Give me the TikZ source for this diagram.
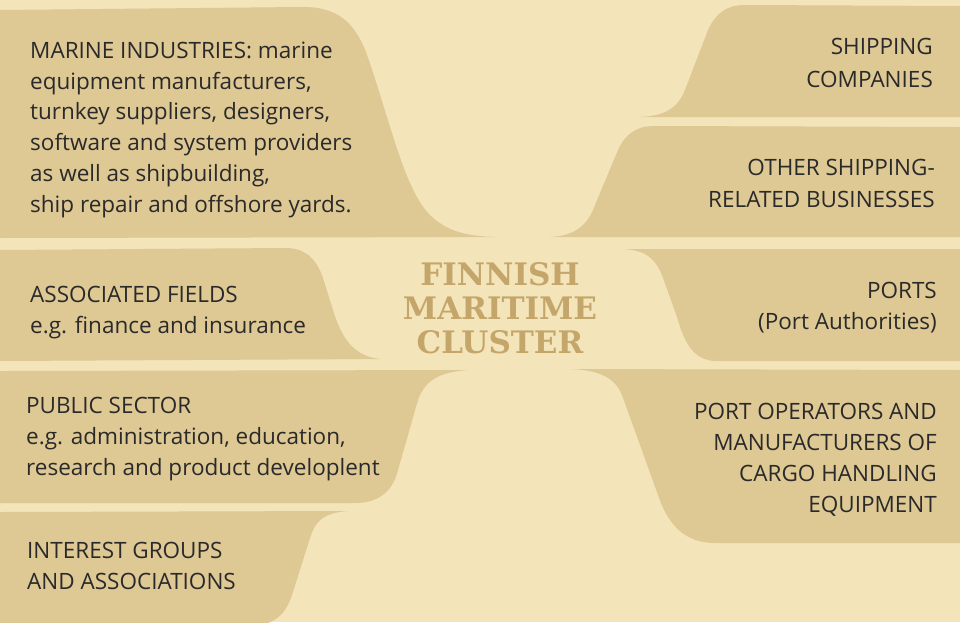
\documentclass[tikz,border=0pt]{standalone}
\usepackage{fontspec}
\setmainfont{Open Sans}
\newfontfamily\titlefont{DejaVu Serif}
\definecolor{bgc}{HTML}{F3E4B9}
\definecolor{leaf}{HTML}{DEC894}
\definecolor{ttl}{HTML}{C4A66A}
\definecolor{ink}{HTML}{2A2A2A}
\begin{document}
\begin{tikzpicture}[x=1pt,y=-1pt,
  leafshape/.style={fill=leaf,draw=none},
  lbl/.style={inner sep=0pt,text=ink,font=\fontsize{22.5}{30.7}\selectfont},
  lbll/.style={lbl,anchor=base west,align=left},
  lblr/.style={lbl,anchor=base east,align=right},
  ttlstyle/.style={inner sep=0pt,text=ttl,anchor=base,align=center,
    font=\titlefont\bfseries\fontsize{31}{34}\selectfont}]
\useasboundingbox (0,0) rectangle (960,622);
\fill[bgc] (0,0) rectangle (960,622);
\begin{scope}
\clip (0,0) rectangle (960,622);
% left shapes
\fill[leafshape] (0,10) -- (300,7) .. controls (340,6) and (355,25) .. (366,52)
  .. controls (390,120) and (403,185) .. (428,213)
  .. controls (445,231) and (465,236) .. (495,237) -- (0,238) -- cycle;
\fill[leafshape] (0,250) -- (285,248) .. controls (305,248) and (315,258) .. (322,275)
  -- (333,310) .. controls (341,336) and (352,356) .. (380,359) -- (0,361) -- cycle;
\fill[leafshape] (0,371) -- (468,370) .. controls (440,372) and (425,380) .. (418,400)
  -- (398,470) .. controls (393,490) and (380,503) .. (355,503) -- (0,503) -- cycle;
\fill[leafshape] (0,512) -- (348,511) .. controls (322,513) and (315,522) .. (310,538)
  -- (292,595) .. controls (287,610) and (280,620) .. (262,625) -- (0,625) -- cycle;
% right shapes
\fill[leafshape] (960,6) -- (745,5) .. controls (725,5) and (715,15) .. (708,30)
  -- (685,90) .. controls (678,108) and (665,116) .. (640,117) -- (960,117) -- cycle;
\fill[leafshape] (960,127) -- (655,126) .. controls (635,126) and (625,135) .. (618,150)
  -- (595,205) .. controls (588,225) and (575,236) .. (550,237) -- (960,237) -- cycle;
\fill[leafshape] (960,249) -- (623,249) .. controls (645,250) and (655,258) .. (662,275)
  -- (678,320) .. controls (685,345) and (695,360) .. (715,361) -- (960,361) -- cycle;
\fill[leafshape] (960,370) -- (570,369) .. controls (600,370) and (615,378) .. (622,395)
  -- (658,495) .. controls (668,525) and (685,543) .. (715,543) -- (960,543) -- cycle;
\end{scope}
% texts (anchored at the baseline of their last line)
\node[lbll] (marine) at (30,212) {MARINE INDUSTRIES: marine\\equipment manufacturers,\\turnkey suppliers, designers,\\software and system providers\\as well as shipbuilding,\\ship repair and offshore yards.};
\node[lbll] (assoc) at (30,333) {ASSOCIATED FIELDS\\e.g. finance and insurance};
\node[lbll] (public) at (26,475) {PUBLIC SECTOR\\e.g. administration, education,\\research and product developlent};
\node[lbll] (interest) at (27,589) {INTEREST GROUPS\\AND ASSOCIATIONS};
\node[lblr,font=\fontsize{22.5}{33}\selectfont] (shipping) at (933,87) {SHIPPING\\COMPANIES};
\node[lblr,font=\fontsize{22.5}{32}\selectfont] (othership) at (935,207) {OTHER SHIPPING-\\RELATED BUSINESSES};
\node[lblr] (ports) at (937,329) {PORTS\\(Port Authorities)};
\node[lblr] (portops) at (937,512) {PORT OPERATORS AND\\MANUFACTURERS OF\\CARGO HANDLING\\EQUIPMENT};
\node[ttlstyle] (title) at (500,353) {FINNISH\\MARITIME\\CLUSTER};
\end{tikzpicture}
\end{document}
